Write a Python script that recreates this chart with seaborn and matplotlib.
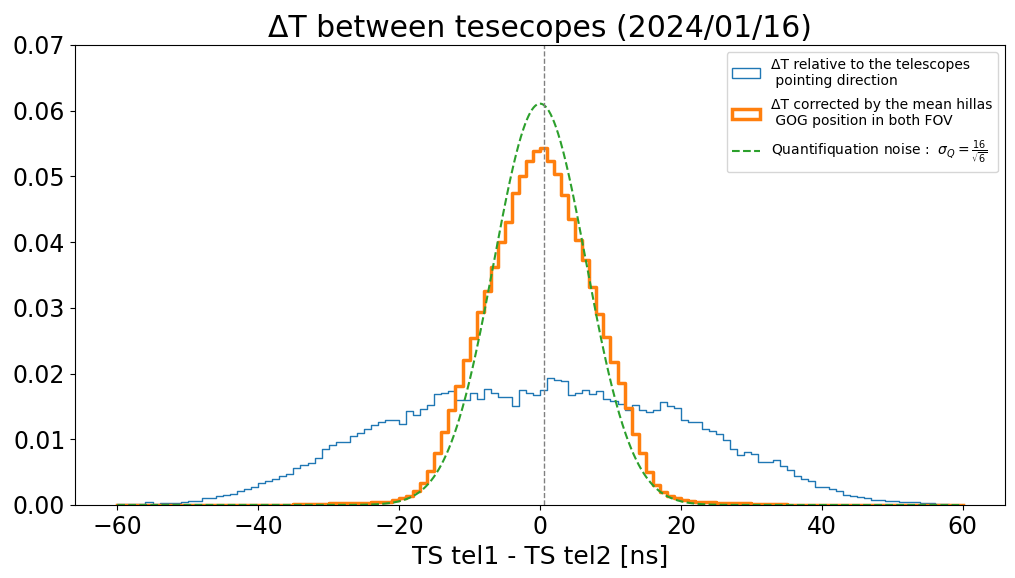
import numpy as np
import pandas as pd
import matplotlib
matplotlib.use("Agg")
import matplotlib.pyplot as plt
import matplotlib.patches as mpatches
from matplotlib.lines import Line2D
import seaborn as sns

# ---------------- data ----------------
bin_edges = list(range(-60, 61, 1))

# density per 1 ns bin, bins [-60,-59] ... [59,60]
dt_pointing = [
    0.0001, 0.0001, 0.0002, 0.0001, 0.0004, 0.0002, 0.0003, 0.0003, 0.0003, 0.0005,   # -60..-51
    0.0006, 0.0006, 0.0010, 0.0011, 0.0014, 0.0015, 0.0017, 0.0021, 0.0024, 0.0027,   # -50..-41
    0.0033, 0.0037, 0.0040, 0.0044, 0.0047, 0.0057, 0.0061, 0.0064, 0.0071, 0.0085,   # -40..-31
    0.0092, 0.0096, 0.0096, 0.0105, 0.0109, 0.0115, 0.0122, 0.0126, 0.0129, 0.0129,   # -30..-21
    0.0124, 0.0143, 0.0137, 0.0146, 0.0152, 0.0169, 0.0170, 0.0173, 0.0160, 0.0160,   # -20..-11
    0.0170, 0.0162, 0.0176, 0.0170, 0.0165, 0.0165, 0.0150, 0.0175, 0.0170, 0.0167,   # -10..-1
    0.0175, 0.0194, 0.0190, 0.0188, 0.0168, 0.0170, 0.0175, 0.0169, 0.0173, 0.0162,   # 0..9
    0.0159, 0.0153, 0.0145, 0.0152, 0.0144, 0.0141, 0.0145, 0.0156, 0.0150, 0.0147,   # 10..19
    0.0129, 0.0126, 0.0126, 0.0116, 0.0113, 0.0108, 0.0099, 0.0085, 0.0076, 0.0081,   # 20..29
    0.0078, 0.0066, 0.0065, 0.0068, 0.0060, 0.0054, 0.0044, 0.0040, 0.0037, 0.0028,   # 30..39
    0.0028, 0.0024, 0.0021, 0.0015, 0.0014, 0.0012, 0.0010, 0.0008, 0.0008, 0.00065,  # 40..49
    0.00065, 0.0005, 0.0004, 0.0004, 0.00035, 0.00035, 0.0001, 0.0001, 0.0, 0.0,      # 50..59
]

dt_corrected = [
    0.00002, 0.00002, 0.00002, 0.00002, 0.00002, 0.00002, 0.00002, 0.00002, 0.00002, 0.00002,  # -60..-51
    0.00002, 0.00002, 0.00002, 0.00002, 0.00002, 0.00002, 0.00002, 0.00002, 0.00002, 0.00002,  # -50..-41
    0.00002, 0.00002, 0.00002, 0.00002, 0.00002, 0.0001, 0.0001, 0.00015, 0.0002, 0.0002,      # -40..-31
    0.00025, 0.0003, 0.0003, 0.0003, 0.00035, 0.00035, 0.0004, 0.0004, 0.0005, 0.0007,         # -30..-21
    0.0010, 0.0014, 0.0022, 0.0034, 0.0052, 0.0079, 0.0111, 0.0144, 0.0181, 0.0220,            # -20..-11
    0.0254, 0.0293, 0.0326, 0.0362, 0.0400, 0.0430, 0.0475, 0.0500, 0.0524, 0.0538,            # -10..-1
    0.0544, 0.0523, 0.0503, 0.0471, 0.0435, 0.0403, 0.0373, 0.0331, 0.0291, 0.0256,            # 0..9
    0.0217, 0.0185, 0.0147, 0.0108, 0.0079, 0.0050, 0.0030, 0.0020, 0.0014, 0.0010,            # 10..19
    0.0008, 0.0006, 0.0005, 0.0004, 0.0004, 0.0003, 0.0003, 0.0003, 0.0003, 0.00025,           # 20..29
    0.0002, 0.00015, 0.0001, 0.0001, 0.0001, 0.00002, 0.00002, 0.00002, 0.00002, 0.00002,      # 30..39
    0.00002, 0.00002, 0.00002, 0.00002, 0.00002, 0.00002, 0.00002, 0.00002, 0.00002, 0.00002,  # 40..49
    0.00002, 0.00002, 0.00002, 0.00002, 0.00002, 0.00002, 0.00002, 0.00002, 0.00002, 0.00002,  # 50..59
]

# quantification noise model (Gaussian, as stated in the legend)
noise_mu = 0.0
noise_sigma = 16 / np.sqrt(6)
vline_x = 0.5

labels = [
    "ΔT relative to the telescopes\n pointing direction",
    "ΔT corrected by the mean hillas\n GOG position in both FOV",
    r"Quantifiquation noise :  $\sigma_Q = \frac{16}{\sqrt{6}}$",
]
title = "ΔT between tesecopes (2024/01/16)"
xlabel = "TS tel1 - TS tel2 [ns]"

# ---------------- plot ----------------
edges_arr = np.array(bin_edges, dtype=float)
centers = (edges_arr[:-1] + edges_arr[1:]) / 2
df = pd.DataFrame({"x": centers, "w1": dt_pointing, "w2": dt_corrected})

fig = plt.figure(figsize=(10.15, 5.78), dpi=100)
ax = fig.add_axes([75 / 1015, 1 - 505 / 578, 930 / 1015, 460 / 578])

sns.histplot(data=df, x="x", weights="w1", bins=bin_edges, element="step",
             fill=False, color="C0", linewidth=1.0, ax=ax)
sns.histplot(data=df, x="x", weights="w2", bins=bin_edges, element="step",
             fill=False, color="C1", linewidth=2.5, ax=ax)

xs = np.linspace(-60, 60, 1000)
ys = np.exp(-0.5 * ((xs - noise_mu) / noise_sigma) ** 2) / (noise_sigma * np.sqrt(2 * np.pi))
sns.lineplot(x=xs, y=ys, color="C2", linestyle="--", linewidth=1.5, ax=ax)

ax.axvline(vline_x, color="grey", linestyle="--", linewidth=1)

ax.set_xlim(-66, 66)
ax.set_ylim(0, 0.07)
ax.set_yticks(np.arange(0, 0.071, 0.01))
ax.yaxis.set_major_formatter(matplotlib.ticker.FormatStrFormatter("%.2f"))
ax.set_xticks([-60, -40, -20, 0, 20, 40, 60])
ax.tick_params(labelsize=17)
ax.set_ylabel("")
ax.set_xlabel(xlabel, fontsize=18)
ax.set_title(title, fontsize=21.5)

handles = [
    mpatches.Patch(facecolor="none", edgecolor="C0", linewidth=1),
    mpatches.Patch(facecolor="none", edgecolor="C1", linewidth=2.5),
    Line2D([0], [0], color="C2", linestyle="--", linewidth=1.5),
]
ax.legend(handles, labels, loc="upper right", fontsize=10, labelspacing=0.75)

fig.savefig("out.png", dpi=100)
